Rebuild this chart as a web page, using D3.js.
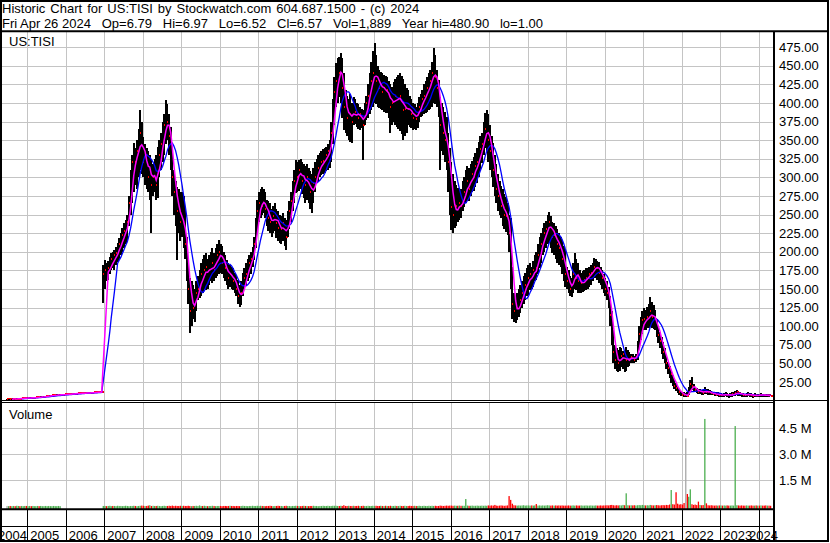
<!DOCTYPE html>
<html>
<head>
<meta charset="utf-8">
<script src="https://cdn.jsdelivr.net/npm/d3@7"></script>
<style>
  body { margin: 0; background: #fff; }
  svg { display: block; font-family: "Liberation Sans", Arial, sans-serif; font-size: 13px; }
</style>
</head>
<body>
<svg width="830" height="543"></svg>
<script>
// half-month periods, counted from Jan 2004; first one is the 2nd half of June 2004
const firstPeriod = 11

const high = [
  2.4,2.6,2.2,2.5,2.8,2.6,3.0,3.2,2.9,3.4,3.6,4.0,3.8,
  4.2,4.4,4.1,4.5,4.7,4.9,5.2,5.1,5.5,5.7,6.0,6.3,6.5,6.7,7.1,7.5,7.7,7.9,8.1,8.2,8.3,7.8,8.0,8.2,
  8.3,8.5,8.6,8.8,9.0,9.2,9.4,9.5,9.6,9.7,9.8,9.9,10.0,10.1,10.2,10.4,10.6,10.8,11.0,11.1,11.2,11.4,11.5,182,
  189,185,188,193,198,200,203,206,212,218,225,232,238,243,250,275,310,330,346,340,350,365,390,375,
  354,345,340,335,330,325,318,325,330,341,350,360,375,385,404,398,385,368,340,310,295,287,285,280,
  280,275,260,220,189,165,160,155,150,160,167,175,185,190,195,198,190,195,200,205,198,205,210,216,
  211,208,200,195,189,185,182,180,178,172,168,162,155,160,171,178,185,190,196,200,206,220,245,270,
  280,285,287,284,280,270,268,265,258,262,265,258,255,250,248,252,245,243,255,268,280,295,310,323,
  320,323,325,320,318,315,318,312,308,305,312,320,325,330,333,336,338,340,341,345,350,375,405,435,
  454,460,462,467,460,440,417,410,405,412,400,408,405,400,398,395,392,390,400,410,425,440,455,470,
  481,465,450,445,442,440,438,436,435,430,425,422,428,432,435,438,440,436,432,425,420,417,410,405,
  400,398,395,400,408,412,418,425,430,435,440,444,455,474,465,445,431,408,400,395,388,381,360,340,
  320,305,295,290,286,284,285,295,300,310,315,312,318,322,328,333,340,348,355,360,375,386,391,385,
  370,355,346,330,318,305,295,288,284,278,274,265,250,246,180,145,140,145,150,155,160,168,172,178,
  182,185,180,188,195,200,210,220,225,232,238,242,250,253,248,240,238,235,230,225,220,215,208,202,
  180,175,168,165,185,198,190,185,175,172,174,176,178,178,180,182,185,191,190,188,186,180,176,170,
  165,160,153,140,120,95,75,70,68,72,70,66,65,72,68,65,63,62,60,62,80,100,112,120,
  125,122,126,130,139,132,128,122,110,100,92,85,78,70,60,52,46,40,34,28,23,18,15,13,
  12,11,10,12,18,28,32,22,18,17,16,15,14,14,18,16,15,14,13,12,12,11,11,10,
  10,9,10,11,10,9,10,11,12,13,14,12,11,10,10,9,10,11,10,10,9,10,9,9,
  9,10,9,9,8,9,8,6.97
]

const low = [
  1.2,1.4,1.0,1.3,1.6,1.4,1.8,2.0,1.7,2.2,2.4,2.8,2.6,
  2.8,3.0,2.7,3.1,3.3,3.5,3.8,3.7,4.1,4.3,4.6,4.9,5.1,5.3,5.7,6.1,6.3,6.5,6.7,6.8,6.9,7.8,8.0,8.2,
  8.3,8.5,8.6,8.8,9.0,9.2,9.4,9.5,9.6,9.7,9.8,9.9,10.0,10.1,10.2,10.4,10.6,10.8,11.0,11.1,11.2,11.4,11.5,131,
  150,160,162,170,175,178,176,182,186,190,195,200,205,210,215,235,250,265,280,290,285,300,310,305,
  300,290,285,280,270,225,275,280,270,272,300,310,320,330,345,350,330,310,275,250,235,189,225,215,
  220,205,190,160,130,91,100,110,105,120,135,138,140,145,150,148,150,155,160,158,160,165,168,170,
  172,170,165,160,155,150,152,150,148,145,140,130,126,128,140,148,155,160,165,170,180,189,205,225,
  240,245,250,252,245,235,228,225,220,225,228,218,215,212,210,215,208,202,220,230,240,255,265,279,
  280,282,285,278,272,265,270,265,258,252,265,280,292,295,300,303,305,306,308,310,312,320,345,370,
  395,400,408,400,380,364,360,355,350,348,346,370,372,368,365,364,366,323,370,377,380,385,390,395,
  400,398,395,393,392,390,388,386,386,380,360,370,375,370,368,365,362,358,350,355,360,370,368,366,
  364,365,364,366,375,381,383,385,386,388,390,392,395,400,398,395,381,310,335,330,320,310,280,250,
  229,225,232,235,240,243,246,255,260,265,270,268,275,280,282,287,292,300,310,319,330,340,335,320,
  310,300,287,275,265,255,250,245,235,230,226,222,200,150,110,105,104,108,112,118,125,130,135,140,
  142,148,150,152,160,162,170,178,185,195,200,205,210,212,205,198,195,190,185,182,180,170,160,153,
  150,145,140,139,145,150,148,145,144,145,146,147,148,150,152,155,160,165,165,162,158,155,150,145,
  140,135,125,100,75,50,42,40,38,40,45,42,38,40,45,47,50,50,50,52,55,70,81,90,
  95,95,97,98,100,98,96,95,85,77,70,62,56,50,42,36,30,24,20,16,13,10,8,6,
  6,5,5,5,8,12,14,12,11,10,9,9,8,8,9,9,8,8,7,7,6,6,6,5,
  5,5,5,6,5,4,5,5,6,6,7,6,6,5,5,5,5,6,5,5,4,5,5,5,
  5,5,5,5,5,5,5,6.52
]

const close = [
  1.8,2.0,1.6,1.9,2.2,2.0,2.4,2.6,2.3,2.8,3.0,3.4,3.2,
  3.5,3.7,3.4,3.8,4.0,4.2,4.5,4.4,4.8,5.0,5.3,5.6,5.8,6.0,6.4,6.8,7.0,7.2,7.4,7.5,7.6,7.8,8.0,8.2,
  8.3,8.5,8.6,8.8,9.0,9.2,9.4,9.5,9.6,9.7,9.8,9.9,10.0,10.1,10.2,10.4,10.6,10.8,11.0,11.1,11.2,11.4,11.5,170,
  175,168,178,182,190,186,195,198,205,210,215,222,228,235,240,265,295,320,330,320,335,350,360,330,
  320,330,310,300,315,290,300,305,290,320,330,345,355,370,380,375,355,330,300,280,270,255,250,240,
  245,230,210,180,150,120,130,125,135,145,150,160,170,165,175,180,170,175,180,185,175,190,195,200,
  195,185,180,178,172,165,170,168,160,155,150,140,135,145,155,165,170,180,185,190,198,210,235,255,
  265,270,262,268,258,250,245,240,235,248,250,238,232,228,230,238,225,220,240,255,268,280,295,305,
  300,310,305,295,298,290,300,285,280,275,292,300,308,312,318,320,322,325,330,335,340,360,390,415,
  430,445,440,450,420,395,385,380,390,385,375,390,388,382,380,385,378,370,390,400,410,425,430,440,
  445,430,425,420,428,415,420,410,418,405,395,400,405,410,400,405,410,395,390,392,395,392,388,385,
  380,385,378,390,395,400,405,410,412,420,425,430,440,445,435,420,405,370,365,360,350,340,320,290,
  260,250,255,262,258,265,262,272,280,290,295,285,300,305,310,315,320,330,338,345,355,365,370,350,
  335,320,310,295,285,275,265,262,255,250,248,240,225,170,130,120,118,125,130,135,145,150,155,160,
  165,170,162,175,180,178,195,205,210,218,225,230,235,240,228,220,222,215,210,205,200,190,180,170,
  160,155,150,152,170,180,165,160,155,158,160,162,165,168,170,172,175,180,182,178,172,168,165,160,
  150,145,135,115,90,65,55,52,50,58,60,62,48,55,58,56,58,57,55,58,72,90,100,108,
  110,105,112,115,120,112,108,110,95,88,80,72,65,58,50,44,34,36,26,20,17,14,11,9,
  8,7,7,6,14,22,20,16,14,13,12,12.5,11,10,14,12,11,10,9.5,9,8.8,8,8.3,7,
  7.5,7.2,8,8.4,7.6,6.5,7.1,8.2,9,10,11,9.2,8.5,8.1,7.4,7,7.8,8.3,7.5,7.2,6.4,7,6.8,7.3,
  7.1,8,7.4,6.9,6.5,7.2,6.8,6.57
]

// millions of shares per period
const volume = [
  .02,.01,.02,.01,.02,.01,.03,.02,.01,.02,.01,.02,.02,
  .01,.02,.01,.02,.01,.01,.02,.01,.02,.01,.01,.02,.01,.02,.01,.01,.02,.01,.01,.02,.01,0,0,0,
  0,0,0,0,0,0,0,0,0,0,0,0,0,0,0,0,0,0,0,0,0,0,0,.02,
  .02,.01,.02,.03,.01,.02,.02,.01,.03,.02,.02,.01,.02,.03,.02,.01,.02,.02,.03,.02,.01,.02,.03,.04,
  .03,.02,.02,.04,.06,.02,.03,.02,.02,.03,.02,.01,.02,.03,.02,.02,.03,.02,.04,.02,.03,.02,.02,.03,
  .02,.03,.02,.02,.03,.02,.01,.02,.02,.03,.02,.05,.02,.02,.03,.02,.01,.02,.02,.03,.02,.01,.02,.02,
  .02,.01,.02,.02,.01,.02,.03,.02,.02,.01,.02,.02,.01,.02,.03,.02,.02,.01,.02,.02,.03,.02,.02,.03,
  .02,.03,.02,.02,.01,.02,.02,.03,.02,.01,.02,.02,.03,.02,.02,.01,.02,.03,.02,.02,.01,.02,.02,.03,
  .02,.02,.01,.02,.03,.02,.02,.01,.02,.02,.03,.02,.02,.01,.02,.02,.03,.02,.02,.03,.02,.02,.03,.03,
  .03,.02,.02,.03,.02,.06,.02,.02,.03,.02,.02,.03,.02,.02,.03,.02,.02,.03,.02,.02,.03,.02,.02,.03,
  .02,.03,.02,.02,.03,.02,.02,.03,.02,.02,.03,.02,.02,.03,.02,.02,.03,.02,.02,.03,.02,.02,.03,.02,
  .02,.03,.02,.02,.03,.02,.02,.03,.02,.02,.03,.02,.03,.02,.03,.02,.02,.04,.03,.02,.03,.04,.03,.04,
  .04,.03,.04,.03,.03,.04,.03,.03,.03,.42,.04,.03,.03,.04,.03,.03,.04,.03,.03,.04,.03,.04,.03,.05,
  .04,.05,.04,.08,.04,.03,.04,.05,.04,.03,.04,.05,.59,.37,.15,.06,.05,.04,.05,.04,.05,.06,.04,.05,
  .05,.04,.05,.04,.05,.13,.04,.05,.04,.05,.04,.05,.06,.05,.04,.05,.04,.05,.04,.05,.04,.05,.04,.04,
  .04,.05,.04,.04,.05,.04,.05,.04,.04,.05,.04,.04,.05,.04,.04,.05,.04,.04,.05,.04,.04,.05,.04,.05,
  .05,.06,.05,.07,.08,.06,.05,.06,.05,.06,.05,.08,.06,.75,.06,.05,.06,.05,.06,.05,.06,.07,.06,.08,
  .06,.05,.06,.05,.08,.06,.05,.06,.07,.06,.05,.06,.07,.06,.08,.07,.10,.94,.12,.10,.81,.15,.10,.12,
  .10,.19,3.92,.71,.55,.98,.12,.08,.10,.07,.27,.08,.06,.07,5.04,.17,.06,.05,.06,.05,.04,.05,.04,.05,
  .05,.04,.05,.04,.05,.04,.04,.05,.04,4.63,.06,.05,.04,.05,.04,.04,.05,.04,.04,.05,.04,.04,.05,.04,
  .04,.05,.04,.04,.05,.04,.04,.03
]

const priceTicks = [25,50,75,100,125,150,175,200,225,250,275,300,325,350,375,400,425,450,475]
const volumeTicks = [1.5, 3.0, 4.5]
const yearLabels = [2004,2005,2006,2007,2008,2009,2010,2011,2012,2013,2014,2015,2016,2017,2018,2019,2020,2021,2022,2023,2024]

const title = 'Historic Chart for US:TISI by Stockwatch.com 604.687.1500 - (c) 2024'
const subtitle = 'Fri Apr 26 2024   Op=6.79   Hi=6.97   Lo=6.52   Cl=6.57   Vol=1,889   Year hi=480.90   lo=1.00'

let svg = d3.select('svg')

let periods = close.map((c, i) => {
    let k = firstPeriod + i
    return {
        date: new Date(2004 + Math.floor(k / 24), Math.floor((k % 24) / 2), k % 2 ? 23 : 8),
        hi: high[i], lo: low[i], close: c, vol: volume[i],
        prev: i ? close[i - 1] : c
    }
})

let sma = n => periods.map((d, i) => i < n - 1 ? null : d3.mean(close.slice(i - n + 1, i + 1)))
let pink = sma(4)
let blue = sma(10)

let x = d3.scaleTime()
    .domain([new Date(2005, 0, 1), new Date(2024, 0, 1)])
    .range([27.3, 758.7])

let y = d3.scaleLinear()
    .domain([0, 475])
    .range([400.5, 47.2])

let yv = d3.scaleLinear()
    .domain([0, 4.5])
    .range([506.3, 428.3])

let defs = svg.append('defs')
defs.append('clipPath').attr('id', 'plotclip')
    .append('rect').attr('x', 2).attr('y', 32).attr('width', 772).attr('height', 368)
defs.append('clipPath').attr('id', 'volclip')
    .append('rect').attr('x', 2).attr('y', 403).attr('width', 772).attr('height', 106)

let yearStarts = yearLabels.slice(1).map(yr => new Date(yr, 0, 1))

// grid
let grid = svg.append('g').attr('stroke', '#c4c4c4').attr('stroke-width', 1)
grid.selectAll('.hgrid')
    .data(priceTicks)
    .enter().append('line')
    .attr('x1', 0).attr('x2', 774)
    .attr('y1', d => Math.round(y(d)) + 0.5).attr('y2', d => Math.round(y(d)) + 0.5)
grid.selectAll('.vhgrid')
    .data(volumeTicks)
    .enter().append('line')
    .attr('x1', 0).attr('x2', 774)
    .attr('y1', d => Math.round(yv(d)) + 0.5).attr('y2', d => Math.round(yv(d)) + 0.5)
grid.selectAll('.vgrid')
    .data(yearStarts)
    .enter().append('line')
    .attr('x1', d => Math.round(x(d)) + 0.5).attr('x2', d => Math.round(x(d)) + 0.5)
    .attr('y1', 32).attr('y2', 400)
grid.selectAll('.vgrid2')
    .data(yearStarts)
    .enter().append('line')
    .attr('x1', d => Math.round(x(d)) + 0.5).attr('x2', d => Math.round(x(d)) + 0.5)
    .attr('y1', 403).attr('y2', 509)

// price bars, each followed by its red close tick
let bars = svg.append('g').attr('clip-path', 'url(#plotclip)')
    .attr('shape-rendering', 'crispEdges')
    .selectAll('.bar')
    .data(periods)
    .enter().append('g')
    .attr('class', 'bar')
bars.append('rect')
    .attr('x', d => x(d.date) - 1)
    .attr('width', 2)
    .attr('y', d => y(d.hi))
    .attr('height', d => Math.max(1, y(d.lo) - y(d.hi)))
    .attr('fill', '#000')
bars.append('rect')
    .attr('x', d => x(d.date))
    .attr('width', 2)
    .attr('y', d => y(d.close) - 1)
    .attr('height', 2)
    .attr('fill', '#ff0000')

let line = d3.line()
    .defined(d => d.v != null)
    .x(d => x(d.date))
    .y(d => y(d.v))

let maG = svg.append('g').attr('clip-path', 'url(#plotclip)').attr('fill', 'none')
maG.append('path')
    .attr('d', line(periods.map((d, i) => ({date: d.date, v: blue[i]}))))
    .attr('stroke', '#0000ff').attr('stroke-width', 1.3)
maG.append('path')
    .attr('d', line(periods.map((d, i) => ({date: d.date, v: pink[i]}))))
    .attr('stroke', '#ff00ff').attr('stroke-width', 1.5)

// volume
svg.append('g').attr('clip-path', 'url(#volclip)')
    .selectAll('.vol')
    .data(periods.filter(d => d.vol > 0))
    .enter().append('rect')
    .attr('x', d => x(d.date) - 0.65)
    .attr('width', 1.3)
    .attr('y', d => yv(d.vol))
    .attr('height', d => 509 - yv(d.vol))
    .attr('fill', d => d.close > d.prev ? '#4caf50' : d.close < d.prev ? '#ff0000' : '#a8a8a8')

// axis labels
svg.append('g')
    .selectAll('text')
    .data(priceTicks)
    .enter().append('text')
    .attr('x', 779)
    .attr('y', d => y(d) + 4.6)
    .text(d3.format('.2f'))
svg.append('g')
    .selectAll('text')
    .data(volumeTicks)
    .enter().append('text')
    .attr('x', 779)
    .attr('y', d => yv(d) + 4.6)
    .text(d => d3.format('.1f')(d) + ' M')

let labelRow = svg.append('g')
labelRow.selectAll('text')
    .data(yearLabels)
    .enter().append('text')
    .attr('y', 540)
    .attr('x', (d, i) => i === yearLabels.length - 1 ? 778 : Math.max(-2, x(new Date(d, 0, 1)) + 3))
    .attr('text-anchor', (d, i) => i === yearLabels.length - 1 ? 'end' : 'start')
    .text(d => d)

svg.append('text').attr('x', 2).attr('y', 13).style('word-spacing', '1.4px').text(title)
svg.append('text').attr('x', 2).attr('y', 28).style('white-space', 'pre').text(subtitle)
svg.append('text').attr('x', 9).attr('y', 46).text('US:TISI')
svg.append('text').attr('x', 9).attr('y', 419).text('Volume')

// frame
let frame = svg.append('g').attr('stroke', '#000').attr('fill', 'none')
frame.append('rect').attr('x', 1).attr('y', 1).attr('width', 827).attr('height', 540).attr('stroke-width', 2)
frame.append('line').attr('x1', 0).attr('x2', 829).attr('y1', 31.3).attr('y2', 31.3).attr('stroke-width', 2)
frame.append('line').attr('x1', 774).attr('x2', 774).attr('y1', 31).attr('y2', 542).attr('stroke-width', 2)
frame.append('line').attr('x1', 0).attr('x2', 829).attr('y1', 400.5).attr('y2', 400.5)
frame.append('line').attr('x1', 0).attr('x2', 774).attr('y1', 402.5).attr('y2', 402.5)
frame.append('line').attr('x1', 0).attr('x2', 774).attr('y1', 509.3).attr('y2', 509.3).attr('stroke-width', 2)
frame.append('line').attr('x1', 0).attr('x2', 774).attr('y1', 526.5).attr('y2', 526.5)
frame.selectAll('.sep')
    .data(yearStarts)
    .enter().append('line')
    .attr('x1', d => Math.round(x(d)) + 0.5).attr('x2', d => Math.round(x(d)) + 0.5)
    .attr('y1', 510).attr('y2', 541)
</script>
</body>
</html>
